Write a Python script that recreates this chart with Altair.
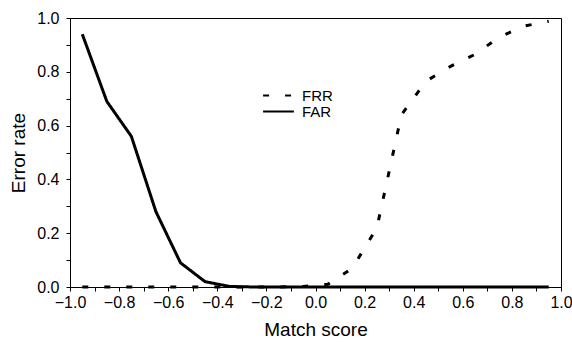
import altair as alt
import pandas as pd

scores = [-0.95, -0.85, -0.75, -0.65, -0.55, -0.45, -0.35, -0.25, -0.15, -0.05,
          0.05, 0.15, 0.25, 0.35, 0.45, 0.55, 0.65, 0.75, 0.85, 0.95]
far = [0.94, 0.69, 0.56, 0.28, 0.09, 0.02, 0.002, 0.0, 0.0, 0.0,
       0.0, 0.0, 0.0, 0.0, 0.0, 0.0, 0.0, 0.0, 0.0, 0.0]
frr = [0.0, 0.0, 0.0, 0.0, 0.0, 0.0, 0.0, 0.0, 0.0, 0.002,
       0.01, 0.07, 0.22, 0.64, 0.765, 0.82, 0.865, 0.93, 0.97, 0.988]
series_names = ["FRR", "FAR"]

rows = []
for s, v in zip(scores, frr):
    rows.append({"score": s, "rate": v, "series": "FRR"})
for s, v in zip(scores, far):
    rows.append({"score": s, "rate": v, "series": "FAR"})
df = pd.DataFrame(rows)

tick_vals = [round(-1 + 0.1 * i, 1) for i in range(21)]
ytick_vals = [round(0.1 * i, 1) for i in range(11)]
lbl = "round(datum.value*10) % 2 == 0 ? format(datum.value, '.1f') : ''"

font = "Liberation Sans"

chart = alt.Chart(df).mark_line(color="black", strokeWidth=3, clip=False).encode(
    x=alt.X("score:Q", title="Match score",
            scale=alt.Scale(domain=[-1, 1], nice=False, zero=False),
            axis=alt.Axis(values=tick_vals, labelExpr=lbl, grid=False,
                          labelFlush=False, labelOverlap=False, labelBound=False)),
    y=alt.Y("rate:Q", title="Error rate",
            scale=alt.Scale(domain=[0, 1], nice=False),
            axis=alt.Axis(values=ytick_vals, labelExpr=lbl, grid=False,
                          labelOverlap=False, labelFlush=False)),
    strokeDash=alt.StrokeDash("series:N",
                              scale=alt.Scale(domain=series_names, range=[[6, 16], [1, 0]]),
                              legend=alt.Legend(title=None, orient="none",
                                                legendX=201, legendY=70,
                                                symbolType="M-5,0L5,0", symbolSize=38,
                                                symbolStrokeWidth=2, symbolStrokeColor="black",
                                                labelFontSize=15, labelFont=font,
                                                labelColor="black", rowPadding=0,
                                                labelOffset=16)),
    detail="series:N",
).properties(
    width=491, height=269,
    padding={"left": 70, "top": 18, "right": 11, "bottom": 55},
    autosize=alt.AutoSizeParams(type="none"),
).configure_view(
    stroke="black", strokeWidth=1
).configure_axis(
    domainColor="black", tickColor="black", tickSize=4, tickWidth=1,
    labelFont=font, labelFontSize=16, labelColor="black",
    titleFont=font, titleFontSize=19, titleFontWeight="normal", titleColor="black",
).configure_axisY(titlePadding=8, labelPadding=7).configure_axisX(titlePadding=10, labelPadding=3)

chart.save("out.html", embed_options={"renderer": "svg", "actions": False})
